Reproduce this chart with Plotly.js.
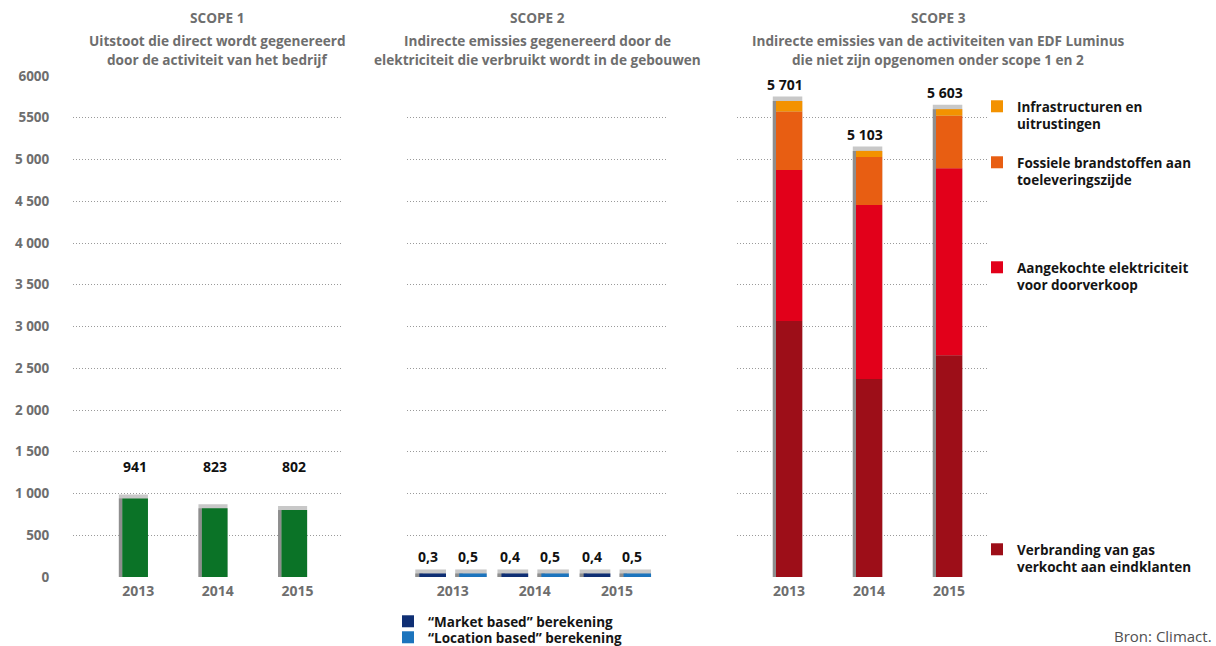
<!DOCTYPE html>
<html><head><meta charset="utf-8">
<script src="https://cdn.plot.ly/plotly-3.0.1.min.js"></script>
<style>html,body{margin:0;padding:0;background:#fff}#chart{width:1216px;height:646px}</style>
</head><body><div id="chart"></div>
<script>
// ---------- data ----------
const years = ['2013', '2014', '2015'];
const scope1Values = [941, 823, 802];
const scope2Market = [0.3, 0.4, 0.4];
const scope2Location = [0.5, 0.5, 0.5];
const scope3Gas = [3065, 2370, 2655];
const scope3Electricity = [1810, 2085, 2240];
const scope3Fossil = [700, 575, 630];
const scope3Infra = [126, 73, 78];
const scope3Totals = [5701, 5103, 5603];
const yTickVals = [0, 500, 1000, 1500, 2000, 2500, 3000, 3500, 4000, 4500, 5000, 5500, 6000];
const yTickText = ['0', '500', '1 000', '1 500', '2 000', '2 500', '3 000', '3 500', '4 000', '4 500', '5 000', '5500', '6000'];
const nameMarket = '“Market based” berekening';
const nameLocation = '“Location based” berekening';
const nameInfra = 'Infrastructuren en<br>uitrustingen';
const nameFossil = 'Fossiele brandstoffen aan<br>toeleveringszijde';
const nameElectricity = 'Aangekochte elektriciteit<br>voor doorverkoop';
const nameGas = 'Verbranding van gas<br>verkocht aan eindklanten';
const titles = [
  ['SCOPE 1', 'Uitstoot die direct wordt gegenereerd', 'door de activiteit van het bedrijf'],
  ['SCOPE 2', 'Indirecte emissies gegenereerd door de', 'elektriciteit die verbruikt wordt in de gebouwen'],
  ['SCOPE 3', 'Indirecte emissies van de activiteiten van EDF Luminus', 'die niet zijn opgenomen onder scope 1 en 2']
];
const sourceText = 'Bron: Climact.';

// ---------- styling / geometry ----------
const W = 1216, H = 646;
const Y0PX = 577, Y1PX = 76;
const GREEN = '#0b7327', NAVY = '#0f2f74', BLUE = '#1c74bd';
const C_GAS = '#9d0e18', C_ELEC = '#e2001a', C_FOSSIL = '#e85e12', C_INFRA = '#f39200';
const CAP = '#c8c8c8', SIDE = '#8e8e8e';
const GRAY_TXT = '#6e6e6e';
const FONT = 'Open Sans, Noto Sans, sans-serif';

const P = [
  {xa: 'x',  x0: 73,  x1: 342, range: [-0.82, 2.56]},
  {xa: 'x2', x0: 407, x1: 668, range: [-0.556, 2.62]},
  {xa: 'x3', x0: 737, x1: 987, range: [-0.65, 2.475]}
];
P.forEach(p => p.ppc = (p.x1 - p.x0) / (p.range[1] - p.range[0]));

function fmtThousands(n) { return String(n).replace(/\B(?=(\d{3})+(?!\d))/g, ' '); }
function fmtDecimal(v) { return String(v).replace('.', ','); }

const traces = [];
function bar(p, yvals, L, R, color, lw, extra) {
  return Object.assign({
    type: 'bar', x: years, y: yvals, xaxis: p.xa, yaxis: 'y',
    offset: L / p.ppc, width: (R - L) / p.ppc,
    marker: {color: color, line: {color: color, width: lw}},
    showlegend: false, hoverinfo: 'skip'
  }, extra || {});
}
function shadows(p, yvals, faceL, faceR, side, capH, fl) {
  const capL = faceL - side + capH, capR = faceR - capH;
  traces.push(bar(p, yvals, capL, capR, CAP, 2 * capH));
  const sL = faceL - side + fl / 2;
  const sR = Math.max(sL + 0.5, faceL - fl / 2);
  traces.push(bar(p, yvals, sL, sR, SIDE, fl));
}

// Scope 1
const s1 = {L: -16, R: 9.7};
shadows(P[0], scope1Values, s1.L, s1.R, 3.4, 4, 0);
traces.push(bar(P[0], scope1Values, s1.L, s1.R, GREEN, 0, {name: 'Scope 1'}));

// Scope 2 (thin bars get a visible thickness from an outline; the legend swatch comes from a plain copy)
const s2m = {L: -33.4, R: -6.7}, s2l = {L: 6.5, R: 34.0};
const FL2 = 7, CAP2 = 7.5;
shadows(P[1], scope2Market, s2m.L, s2m.R, 4, CAP2, FL2);
shadows(P[1], scope2Location, s2l.L, s2l.R, 4, CAP2, FL2);
traces.push(bar(P[1], scope2Market, s2m.L + FL2 / 2, s2m.R - FL2 / 2, NAVY, FL2));
traces.push(bar(P[1], scope2Location, s2l.L + FL2 / 2, s2l.R - FL2 / 2, BLUE, FL2));
traces.push(bar(P[1], scope2Market, s2m.L + FL2 / 2, s2m.R - FL2 / 2, NAVY, 0,
  {name: nameMarket, showlegend: true, legend: 'legend'}));
traces.push(bar(P[1], scope2Location, s2l.L + FL2 / 2, s2l.R - FL2 / 2, BLUE, 0,
  {name: nameLocation, showlegend: true, legend: 'legend6'}));

// Scope 3
const s3 = {L: -13, R: 13.3};
shadows(P[2], scope3Totals, s3.L, s3.R, 3.2, 4.5, 0);
const stackSeries = [
  {vals: scope3Gas, color: C_GAS, name: nameGas, legend: 'legend5'},
  {vals: scope3Electricity, color: C_ELEC, name: nameElectricity, legend: 'legend4'},
  {vals: scope3Fossil, color: C_FOSSIL, name: nameFossil, legend: 'legend3'},
  {vals: scope3Infra, color: C_INFRA, name: nameInfra, legend: 'legend2'}
];
let cum = years.map(() => 0);
stackSeries.forEach(s => {
  traces.push(bar(P[2], s.vals, s3.L, s3.R, s.color, 0,
    {base: cum.slice(), name: s.name, showlegend: true, legend: s.legend}));
  cum = cum.map((c, i) => c + s.vals[i]);
});

// ---------- annotations ----------
const ann = [];
const valFont = {family: FONT, size: 14, color: '#111', weight: 700};
scope1Values.forEach((v, i) => ann.push({
  xref: 'x', yref: 'y', x: i + ((s1.L + s1.R) / 2) / P[0].ppc, y: 1320,
  text: fmtThousands(v), showarrow: false, font: valFont, yanchor: 'middle'
}));
[[scope2Market, s2m], [scope2Location, s2l]].forEach(([vals, g]) => vals.forEach((v, i) => ann.push({
  xref: 'x2', yref: 'y', x: i + ((g.L - 4 + g.R) / 2 - 3) / P[1].ppc, y: v,
  text: fmtDecimal(v), showarrow: false, font: valFont, yanchor: 'bottom', yshift: CAP2 + 1
})));
scope3Totals.forEach((v, i) => ann.push({
  xref: 'x3', yref: 'y', x: i + ((s3.L + s3.R) / 2 - 4) / P[2].ppc, y: v,
  text: fmtThousands(v), showarrow: false, font: valFont, yanchor: 'bottom', yshift: 5
}));
const titleCenters = [217, 537, 938];
const titleYs = [18, 40, 60];
titles.forEach((lines, k) => lines.forEach((t, j) => ann.push({
  xref: 'paper', yref: 'paper', x: titleCenters[k] / W, y: 1 - titleYs[j] / H,
  xanchor: 'center', yanchor: 'middle', text: t, showarrow: false,
  font: {family: FONT, size: 13.6, color: GRAY_TXT, weight: 700}
})));
ann.push({xref: 'paper', yref: 'paper', x: 1214 / W, y: 1 - 636 / H, xanchor: 'right', yanchor: 'middle',
  text: sourceText, showarrow: false, font: {family: FONT, size: 15, color: '#505050'}});

// ---------- layout ----------
const tickFont = {family: FONT, size: 14, color: GRAY_TXT, weight: 700};
function xax(p) {
  return {domain: [p.x0 / W, p.x1 / W], range: p.range, type: 'category', anchor: 'y',
    showgrid: false, zeroline: false, showline: false, ticks: '', tickfont: tickFont,
    ticklabelstandoff: 4, automargin: false, fixedrange: true};
}
function leg(xpx, ypx) {
  return {x: xpx / W, y: 1 - ypx / H, xanchor: 'left', yanchor: 'top', bgcolor: 'rgba(0,0,0,0)',
    borderwidth: 0, valign: 'top', tracegroupgap: 0,
    font: {family: FONT, size: 13.5, color: '#151515', weight: 700}};
}
const layout = {
  width: W, height: H, margin: {l: 0, r: 0, t: 0, b: 0, autoexpand: false},
  paper_bgcolor: '#fff', plot_bgcolor: 'rgba(0,0,0,0)',
  barmode: 'overlay', showlegend: true,
  font: {family: FONT, size: 13, color: GRAY_TXT},
  xaxis: xax(P[0]), xaxis2: xax(P[1]), xaxis3: xax(P[2]),
  yaxis: {domain: [(H - Y0PX) / H, (H - Y1PX) / H], range: [0, 6000], anchor: 'x',
    tickvals: yTickVals, ticktext: yTickText, showgrid: true, gridcolor: '#9a9a9a',
    griddash: '1px,2px', gridwidth: 1, zeroline: false, showline: false,
    ticks: 'outside', ticklen: 20, tickcolor: 'rgba(0,0,0,0)', automargin: false,
    tickfont: Object.assign({}, tickFont, {size: 13.5}), fixedrange: true},
  legend: leg(388, 606),
  legend6: leg(388, 622),
  legend2: leg(977, 91),
  legend3: leg(977, 147),
  legend4: leg(977, 252),
  legend5: leg(977, 534),
  annotations: ann
};
Plotly.newPlot('chart', traces, layout, {displayModeBar: false, staticPlot: true});
</script>
</body></html>
